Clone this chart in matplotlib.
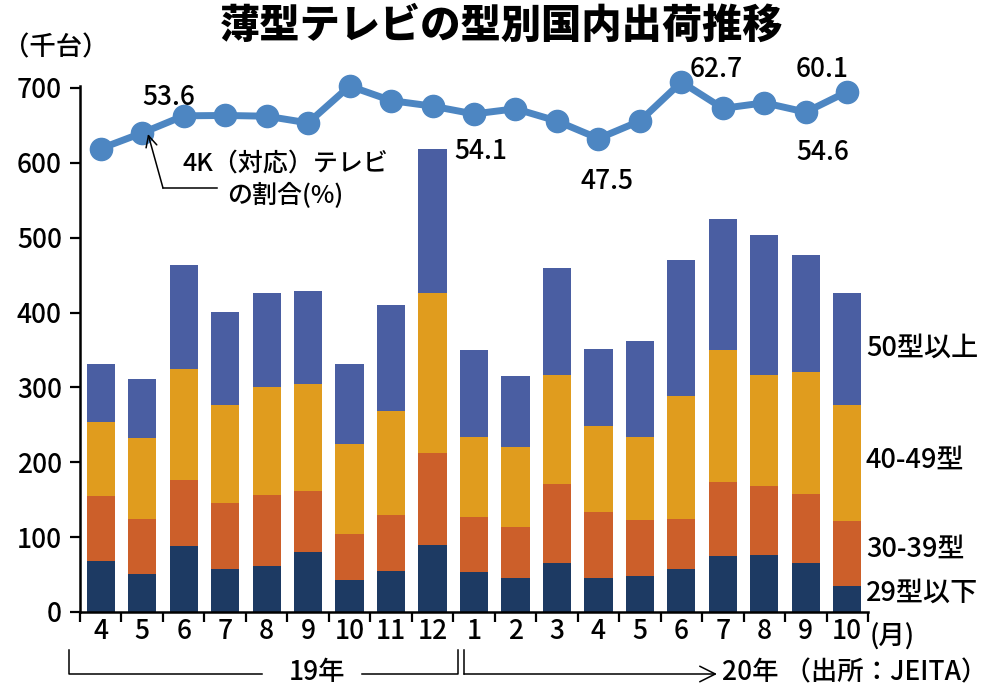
import matplotlib
matplotlib.use("Agg")
import matplotlib.pyplot as plt
import numpy as np

plt.rcParams['font.family'] = ['Noto Sans CJK JP', 'DejaVu Sans']
plt.rcParams['font.weight'] = 'medium'

# data (thousand units), Apr 2019 - Oct 2020
months = ['4', '5', '6', '7', '8', '9', '10', '11', '12',
          '1', '2', '3', '4', '5', '6', '7', '8', '9', '10']
size_29 = [68, 51, 88, 57, 61, 80, 43, 55, 89, 54, 45, 66, 46, 48, 57, 75, 76, 66, 35]
size_30 = [87, 73, 88, 89, 95, 81, 61, 74, 123, 73, 68, 105, 87, 75, 67, 99, 92, 92, 86]
size_40 = [99, 109, 149, 131, 144, 143, 120, 139, 214, 107, 108, 146, 116, 111, 164, 176, 148, 162, 156]
size_50 = [77, 78, 138, 124, 126, 125, 107, 142, 193, 116, 94, 142, 102, 128, 182, 175, 188, 157, 149]
share_4k = [44.8, 49.0, 53.6, 53.7, 53.5, 51.7, 61.6, 57.7, 56.2, 54.1,
            55.5, 52.2, 47.5, 52.2, 62.7, 55.6, 57.1, 54.6, 60.1]
seg_labels = ['29型以下', '30-39型', '40-49型', '50型以上']
seg_colors = ['#1d3a63', '#cc5f2a', '#e09c1e', '#4a5ea2']

W, H = 1000, 689
fig = plt.figure(figsize=(10, 6.89), dpi=100)

def fx(x):
    return x / W

def fy(y):
    return 1 - y / H

ax = fig.add_axes([0.08, fy(612), 0.788, (612 - 85.7) / H])
x = np.arange(len(months))
bottom = np.zeros(len(months))
for vals, col in zip([size_29, size_30, size_40, size_50], seg_colors):
    ax.bar(x, vals, bottom=bottom, width=0.68, color=col, zorder=2)
    bottom += np.array(vals)

ax.set_xlim(-0.5, len(months) - 0.5)
ax.set_ylim(0, 703)
ax.set_yticks(range(0, 701, 100))
ax.tick_params(axis='y', labelsize=19, length=7, width=1.6, pad=6)
ax.set_xticks(x)
ax.set_xticklabels(months)
ax.tick_params(axis='x', which='major', length=0, labelsize=19, pad=4)
ax.set_xticks(np.arange(-0.5, len(months), 1), minor=True)
ax.tick_params(axis='x', which='minor', length=7, width=1.6)
for s in ['top', 'right']:
    ax.spines[s].set_visible(False)
for s in ['left', 'bottom']:
    ax.spines[s].set_linewidth(1.8)

# segment labels at right of last bar
label_y = [25, 84, 203, 352]
for lab, yv in zip(seg_labels, label_y):
    ax.text(18.45, yv, lab, fontsize=19.5, va='center', ha='left', clip_on=False)

# 4K share line on hidden secondary scale
ax2 = ax.twinx()
ax2.set_ylim(-79.8, 61.7)
ax2.axis('off')
ax2.plot(x, share_4k, color='#4d86c2', lw=5, marker='o', ms=16, clip_on=False, zorder=3)

label_offsets = {2: (-11, 13), 9: (5, -27), 12: (6, -31), 14: (25, 9), 17: (12, -29), 18: (-18, 16)}
for i, (dx, dy) in label_offsets.items():
    ax2.annotate(f'{share_4k[i]:.1f}', (x[i], share_4k[i]), xytext=(dx, dy),
                 textcoords='offset points', ha='center', va='center', fontsize=19,
                 annotation_clip=False)

# annotation for line
fig.text(fx(285), fy(180), '4K（対応）テレビ\nの割合(%)', fontsize=18, ha='center', va='center',
         multialignment='center', linespacing=1.3)
fig.add_artist(plt.Line2D([fx(217), fx(163)], [fy(188), fy(188)], color='black', lw=1.1))
ax2.annotate('', xy=(148, H - 134), xytext=(163, H - 188), xycoords='figure pixels',
             textcoords='figure pixels', annotation_clip=False,
             arrowprops=dict(arrowstyle='->', color='black', lw=1.1, mutation_scale=20,
                             shrinkA=0, shrinkB=0))

# title and unit
fig.text(fx(502), fy(26), '薄型テレビの型別国内出荷推移', fontsize=29, fontweight='heavy',
         ha='center', va='center')
fig.text(fx(56), fy(48), '（千台）', fontsize=19, ha='center', va='center')
fig.text(fx(870), fy(637), '(月)', fontsize=19, ha='left', va='center')

# year brackets
fig.add_artist(plt.Line2D([fx(69), fx(69), fx(262)], [fy(650), fy(674), fy(674)], color='black', lw=1.1))
fig.add_artist(plt.Line2D([fx(362), fx(458), fx(458)], [fy(674), fy(674), fy(650)], color='black', lw=1.1))
fig.text(fx(317), fy(673), '19年', fontsize=19, ha='center', va='center')
fig.add_artist(plt.Line2D([fx(464), fx(464)], [fy(650), fy(674)], color='black', lw=1.1))
ax2.annotate('', xy=(717, H - 674), xytext=(464, H - 674), xycoords='figure pixels',
             textcoords='figure pixels', annotation_clip=False,
             arrowprops=dict(arrowstyle='->', color='black', lw=1.1, mutation_scale=28,
                             shrinkA=0, shrinkB=0))
fig.text(fx(722), fy(673), '20年 （出所：JEITA）', fontsize=19, ha='left', va='center')

fig.savefig('out.png', dpi=100)
